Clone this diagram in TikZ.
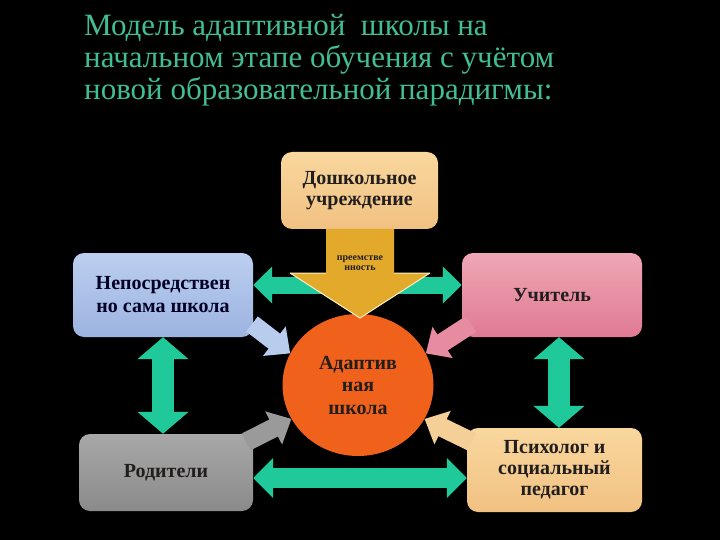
\documentclass[tikz,border=0pt]{standalone}
\usepackage{fontspec}
\setmainfont{Liberation Serif}
\usetikzlibrary{arrows.meta,shapes.geometric,calc}
\definecolor{titlegreen}{RGB}{66,190,148}
\definecolor{arrgreen}{RGB}{31,201,154}
\definecolor{txtdark}{RGB}{34,30,30}
\definecolor{peachT}{RGB}{249,215,158}
\definecolor{peachB}{RGB}{241,193,130}
\definecolor{blueT}{RGB}{188,207,240}
\definecolor{blueB}{RGB}{156,179,224}
\definecolor{pinkT}{RGB}{238,167,180}
\definecolor{pinkB}{RGB}{224,122,146}
\definecolor{grayT}{RGB}{168,168,168}
\definecolor{grayB}{RGB}{138,138,138}
\definecolor{circorange}{RGB}{240,98,28}
\definecolor{gold}{RGB}{226,169,42}
\definecolor{goldedge}{RGB}{255,240,200}
\definecolor{darrblue}{RGB}{184,204,238}
\definecolor{darrpink}{RGB}{230,139,160}
\definecolor{darrgray}{RGB}{154,154,154}
\definecolor{darrpeach}{RGB}{245,207,152}
\tikzset{
  box/.style={rounded corners=11pt, inner sep=0pt, align=center,
    font=\fontsize{20}{21}\selectfont\bfseries, text=txtdark},
  hbiarrow/.style={arrgreen, line width=17pt,
    {Triangle[width=36pt,length=19pt]}-{Triangle[width=36pt,length=19pt]}},
  bbiarrow/.style={arrgreen, line width=20pt,
    {Triangle[width=39pt,length=20pt]}-{Triangle[width=39pt,length=20pt]}},
  vbiarrow/.style={arrgreen, line width=22pt,
    {Triangle[width=50pt,length=22pt]}-{Triangle[width=50pt,length=22pt]}},
  diagarrow/.style={line width=19pt, -{Triangle[width=36pt,length=20pt]}}
}
\begin{document}
\begin{tikzpicture}[x=1pt,y=-1pt]
\fill[black] (0,0) rectangle (720,540);
\useasboundingbox (0,0) rectangle (720,540);

% title
\node[anchor=base west, align=left, inner sep=0pt, text=titlegreen,
  font=\fontsize{31}{32}\selectfont] (title) at (84,100)
  {Модель адаптивной \ школы на\\начальном этапе обучения с учётом\\новой образовательной парадигмы:};

% boxes
\node[box, top color=peachT, bottom color=peachB, minimum width=157pt, minimum height=77pt]
  (pre) at (359.5,190.5) {Дошкольное\\учреждение};
\node[box, top color=blueT, bottom color=blueB, minimum width=180pt, minimum height=84pt,
  text=black!85!blue, font=\fontsize{20}{23}\selectfont\bfseries]
  (school) at (163,295) {Непосредствен\\но сама школа};
\node[box, top color=pinkT, bottom color=pinkB, minimum width=180pt, minimum height=84pt]
  (teacher) at (552,295) {Учитель};
\node[box, top color=grayT, bottom color=grayB, minimum width=174pt, minimum height=77pt]
  (parents) at (166,472.5) {Родители};
\node[box, top color=peachT, bottom color=peachB, minimum width=175pt, minimum height=84pt]
  (psych) at (554.5,470) {Психолог и\\социальный\\педагог};

% green double arrows
\draw[hbiarrow] ([yshift=10pt]school.east) -- ([yshift=10pt]school.east -| teacher.west);
\draw[vbiarrow] (school.south) -- (school.south |- parents.north);
\draw[vbiarrow] ([xshift=7pt]teacher.south) -- ([xshift=7pt]teacher.south |- psych.north);
\draw[bbiarrow] ([yshift=-5.5pt]parents.east) -- ([yshift=-5.5pt]parents.east -| psych.west);

% central circle
\node[ellipse, fill=circorange, minimum width=151pt, minimum height=142pt, inner sep=0pt,
  align=center, font=\fontsize{20}{22.5}\selectfont\bfseries, text=txtdark]
  (adapt) at (358,385) {Адаптив\\ная\\школа};

% yellow arrow (continuity)
\fill[gold] (326,229) -- (394,229) -- (394,273) -- (430,273) -- (360,318)
  -- (290,273) -- (326,273) -- cycle;
\draw[goldedge, line width=1pt, line join=round] (394,273) -- (430,273) -- (360,318) -- (290,273) -- (326,273);
\node[align=center, inner sep=0pt, font=\fontsize{10}{9.5}\selectfont\bfseries, text=txtdark]
  (cont) at (360,263) {преемстве\\нность};

% diagonal arrows to the circle
\coordinate (tb) at (252,324);
\coordinate (tp) at (471,324);
\coordinate (tg) at (246,442);
\coordinate (tc) at (472,442);
\draw[diagarrow, darrblue] (tb) -- (adapt.155);
\draw[diagarrow, darrpink] (tp) -- (adapt.25);
\draw[diagarrow, darrgray] (tg) -- (adapt.207);
\draw[diagarrow, darrpeach] (tc) -- (adapt.333);
\end{tikzpicture}
\end{document}
